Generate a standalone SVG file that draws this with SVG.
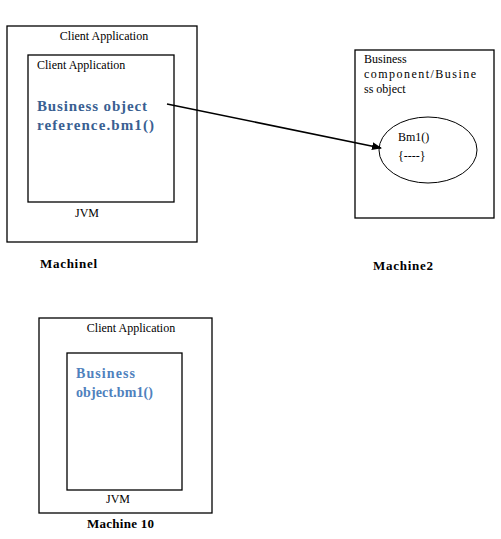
<svg xmlns="http://www.w3.org/2000/svg" width="501" height="539" viewBox="0 0 501 539">
<style>
.box{fill:none;stroke:#000;stroke-width:1.3}
.t{font-family:"Liberation Serif","Times New Roman",serif;font-size:12px;fill:#000}
.m{font-family:"Liberation Serif","Times New Roman",serif;font-size:13px;font-weight:bold;fill:#000}
.b1{font-family:"Liberation Serif","DejaVu Serif",serif;font-size:15px;font-weight:bold;fill:#3A5F92}
.b2{font-family:"Liberation Serif","DejaVu Serif",serif;font-size:14px;font-weight:bold;fill:#4F81BD}
</style>
<defs>
<marker id="ah" markerWidth="10" markerHeight="8" refX="9" refY="4" orient="auto" markerUnits="userSpaceOnUse">
<path d="M0,0 L10,4 L0,8 Z" fill="#000"/>
</marker>
</defs>
<rect width="501" height="539" fill="#fff"/>
<g id="machine1">
<rect class="box" x="7" y="26" width="190" height="216"/>
<text class="t" x="104" y="40" text-anchor="middle">Client Application</text>
<rect class="box" x="28" y="55" width="146" height="147"/>
<text class="t" x="37" y="69">Client Application</text>
<text class="b1" x="37" y="111" textLength="110">Business object</text>
<text class="b1" x="37" y="130" textLength="117">reference.bm1()</text>
<text class="t" x="87" y="217" text-anchor="middle">JVM</text>
<text class="m" x="40" y="268" textLength="57">Machinel</text>
</g>
<g id="machine2">
<rect class="box" x="355" y="50" width="139" height="168"/>
<text class="t" x="364" y="63">Business</text>
<text class="t" x="364" y="78" textLength="112">component/Busine</text>
<text class="t" x="364" y="93">ss object</text>
<ellipse cx="428" cy="150" rx="49" ry="33" fill="none" stroke="#000" stroke-width="1"/>
<text class="t" x="398" y="141">Bm1()</text>
<text class="t" x="398" y="160">{----}</text>
<text class="m" x="373" y="270" textLength="60">Machine2</text>
</g>
<g id="machine10">
<rect class="box" x="39" y="318" width="173" height="195"/>
<text class="t" x="131" y="332" text-anchor="middle">Client Application</text>
<rect class="box" x="67" y="353" width="115" height="137"/>
<text class="b2" x="76" y="378" textLength="59">Business</text>
<text class="b2" x="76" y="397" textLength="77">object.bm1()</text>
<text class="t" x="118" y="503" text-anchor="middle">JVM</text>
<text class="m" x="87" y="528" textLength="67">Machine 10</text>
</g>
<g id="connectors">
<line x1="167" y1="104" x2="381" y2="148" stroke="#000" stroke-width="1.5" marker-end="url(#ah)"/>
</g>
</svg>
